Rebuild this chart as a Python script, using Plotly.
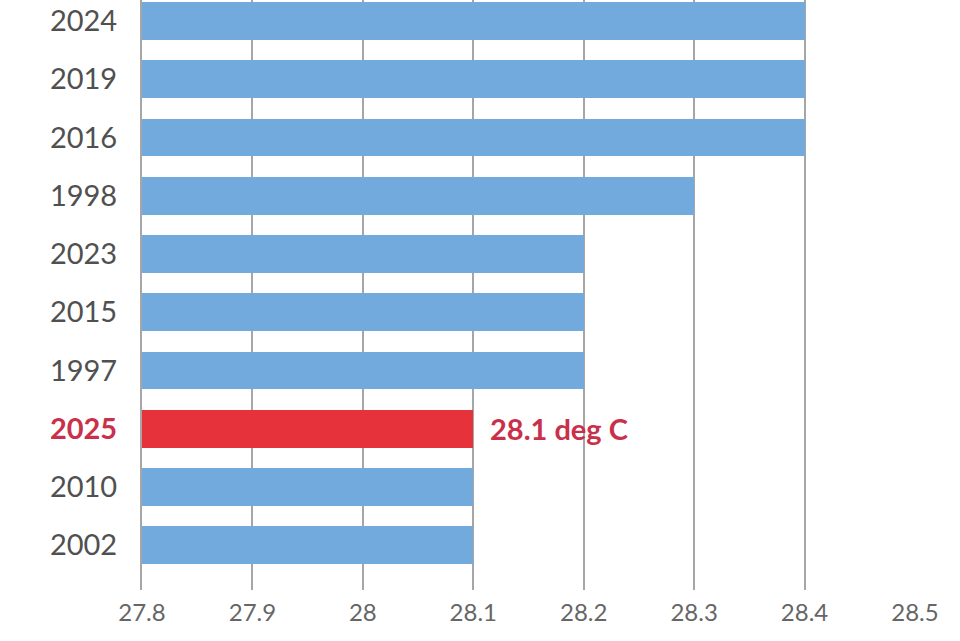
import plotly.graph_objects as go

BAR_BLUE = "#72AADD"
BAR_RED = "#E5323B"
LABEL_RED = "#C9304A"
GRID_GREY = "#A6A6A6"
TEXT_GREY = "#505050"

# top to bottom, as in the ranking
years = ["2024", "2019", "2016", "1998", "2023", "2015", "1997", "2025", "2010", "2002"]
temps = [28.4, 28.4, 28.4, 28.3, 28.2, 28.2, 28.2, 28.1, 28.1, 28.1]
highlight_year = "2025"
x_ticks = [27.8, 27.9, 28.0, 28.1, 28.2, 28.3, 28.4, 28.5]
x_tick_labels = ["27.8", "27.9", "28", "28.1", "28.2", "28.3", "28.4", "28.5"]

colors = [BAR_RED if y == highlight_year else BAR_BLUE for y in years]
y_labels = [
    f"<b><span style='color:{LABEL_RED}'>{y}</span></b>" if y == highlight_year else y
    for y in years
]

fig = go.Figure(
    go.Bar(
        x=temps,
        y=years,
        orientation="h",
        marker=dict(color=colors, line=dict(width=0)),
        width=0.65,
        hoverinfo="x+y",
    )
)

# numeric-looking category names get read as indices, so place by index
hi = years.index(highlight_year)
fig.add_annotation(
    x=temps[hi],
    y=hi,
    xref="x",
    yref="y",
    text=f"<b>{temps[hi]} deg C</b>",
    showarrow=False,
    xanchor="left",
    xshift=15,
    font=dict(family="Lato, sans-serif", size=29, color=LABEL_RED),
)

fig.update_layout(
    width=960,
    height=641,
    margin=dict(l=142, r=45, t=0, b=51),
    paper_bgcolor="white",
    plot_bgcolor="white",
    showlegend=False,
    bargap=0,
    font=dict(family="Lato, sans-serif", color=TEXT_GREY),
)
fig.update_xaxes(
    range=[27.8, 28.5],
    tickvals=x_ticks,
    ticktext=x_tick_labels,
    showgrid=True,
    gridcolor=GRID_GREY,
    gridwidth=2,
    zeroline=False,
    showline=False,
    ticks="",
    ticklabelstandoff=6,
    tickfont=dict(size=24, color="#666666"),
)
fig.update_yaxes(
    type="category",
    categoryorder="array",
    categoryarray=years,
    tickvals=years,
    ticktext=y_labels,
    range=[len(years) - 1 + 0.77, -0.36],
    showgrid=False,
    zeroline=False,
    showline=True,
    linecolor=GRID_GREY,
    linewidth=2,
    ticks="",
    ticklabelstandoff=17,
    tickfont=dict(size=29, color=TEXT_GREY),
)

fig.write_html(
    "out.html",
    config={"displayModeBar": False},
    post_script="document.body.style.margin = '0';",
)
